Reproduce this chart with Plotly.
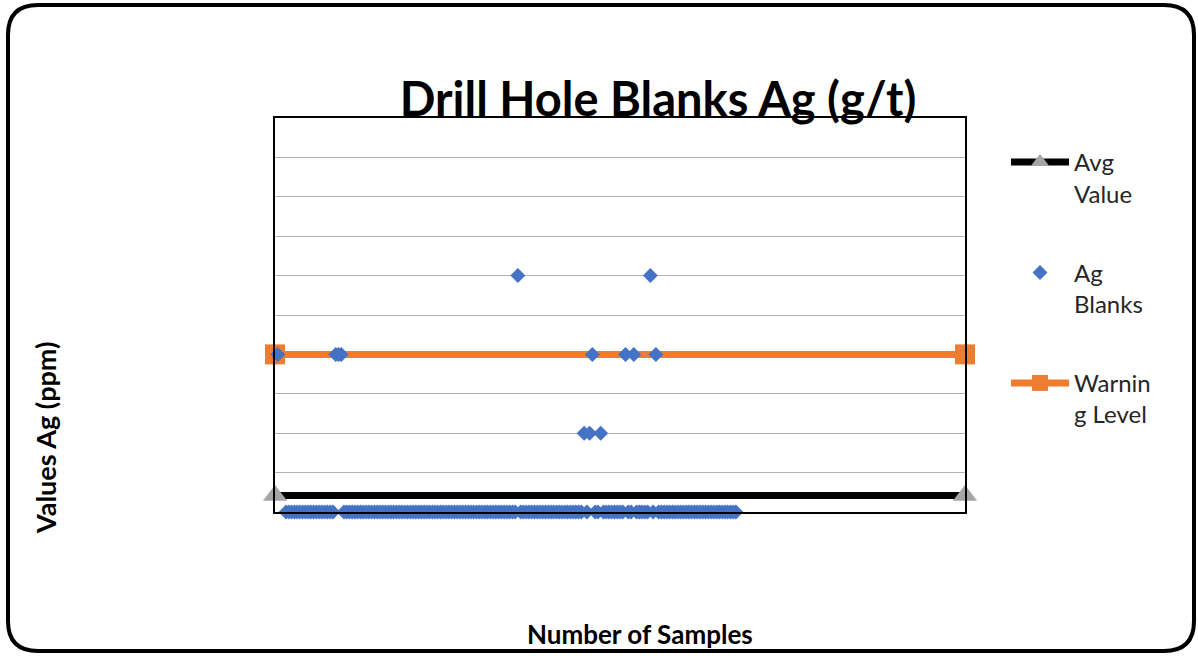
import plotly.graph_objects as go

# ---------------- data ----------------
sample_no = list(range(1, 168))
ag_blanks = [
    4, None, None, 0, 0, 0, 0, 0, 0, 0,      # 1-10
    0, 0, 0, 0, 0, 0, 0, 0, 0, 0,            # 11-20
    0, 4, 4, 4, 0, 0, 0, 0, 0, 0,            # 21-30
    0, 0, 0, 0, 0, 0, 0, 0, 0, 0,            # 31-40
    0, 0, 0, 0, 0, 0, 0, 0, 0, 0,            # 41-50
    0, 0, 0, 0, 0, 0, 0, 0, 0, 0,            # 51-60
    0, 0, 0, 0, 0, 0, 0, 0, 0, 0,            # 61-70
    0, 0, 0, 0, 0, 0, 0, 0, 0, 0,            # 71-80
    0, 0, 0, 0, 0, 0, 0, 6, 0, 0,            # 81-90
    0, 0, 0, 0, 0, 0, 0, 0, 0, 0,            # 91-100
    0, 0, 0, 0, 0, 0, 0, 0, 0, 0,            # 101-110
    0, 2, 0, 2, 4, 0, 0, 2, 0, 0,            # 111-120
    0, 0, 0, 0, 0, 0, 4, 0, 0, 4,            # 121-130
    0, 0, 0, 0, 0, 6, 0, 4, 0, 0,            # 131-140
    0, 0, 0, 0, 0, 0, 0, 0, 0, 0,            # 141-150
    0, 0, 0, 0, 0, 0, 0, 0, 0, 0,            # 151-160
    0, 0, 0, 0, 0, 0, 0,                     # 161-167
]
limit_x = [0, 250]
avg_value = [0.42, 0.42]
warning_level = [4, 4]

title_text = "Drill Hole Blanks Ag (g/t)"
x_title = "Number of Samples"
y_title = "Values Ag (ppm)"

# ---------------- layout geometry ----------------
W, H = 1198, 656
L, R, T, B = 275, 965, 118, 512   # plot area in pixels


def px(x):
    return (x - L) / (R - L)


def py(y):
    return (B - y) / (B - T)


FONT = "Lato, 'Open Sans', sans-serif"

fig = go.Figure()

fig.add_trace(go.Scatter(
    x=limit_x, y=avg_value, name="Avg<br>Value", mode="lines+markers",
    line=dict(color="#000000", width=7),
    marker=dict(symbol="triangle-up", size=21, color="#A5A5A5"),
    cliponaxis=False, legendrank=1, legendgroup="a",
))
fig.add_trace(go.Scatter(
    x=limit_x, y=warning_level, name="Warnin<br>g Level", mode="lines+markers",
    line=dict(color="#ED7D31", width=7),
    marker=dict(symbol="square", size=20, color="#ED7D31"),
    cliponaxis=False, legendrank=3, legendgroup="c",
))
fig.add_trace(go.Scatter(
    x=sample_no, y=ag_blanks, name="Ag<br>Blanks", mode="markers",
    marker=dict(symbol="diamond", size=11.5, color="#4472C4"),
    cliponaxis=False, legendrank=2, legendgroup="b",
))

# rounded outer border
x0, y0, x1, y1, r = 8, 5, 1194, 651, 30
path = (
    f"M {px(x0 + r)},{py(y0)} L {px(x1 - r)},{py(y0)} "
    f"Q {px(x1)},{py(y0)} {px(x1)},{py(y0 + r)} "
    f"L {px(x1)},{py(y1 - r)} Q {px(x1)},{py(y1)} {px(x1 - r)},{py(y1)} "
    f"L {px(x0 + r)},{py(y1)} Q {px(x0)},{py(y1)} {px(x0)},{py(y1 - r)} "
    f"L {px(x0)},{py(y0 + r)} Q {px(x0)},{py(y0)} {px(x0 + r)},{py(y0)} Z"
)

fig.update_layout(
    width=W, height=H,
    margin=dict(l=L, r=W - R, t=T, b=H - B, autoexpand=False),
    paper_bgcolor="white", plot_bgcolor="white",
    font=dict(family=FONT, color="#262626"),
    title=dict(text=f"<b>{title_text}</b>", x=658 / W, xanchor="center",
               y=1 - 100 / H, yanchor="middle",
               font=dict(family=FONT, size=47, color="#000000")),
    xaxis=dict(range=[0, 250], showgrid=False, showticklabels=False, ticks="",
               zeroline=False, showline=True, linecolor="#000000", linewidth=2,
               mirror=True),
    yaxis=dict(range=[0, 10], dtick=1, showgrid=True, gridcolor="#B4B4B4",
               gridwidth=1, showticklabels=False, ticks="", zeroline=False,
               showline=True, linecolor="#000000", linewidth=2, mirror=True),
    legend=dict(x=px(1006), y=py(140), xanchor="left", yanchor="top",
                font=dict(family=FONT, size=24, color="#262626"),
                tracegroupgap=45, valign="top", itemwidth=58,
                bgcolor="rgba(0,0,0,0)"),
    showlegend=True,
    shapes=[dict(type="path", xref="paper", yref="paper", path=path,
                 line=dict(color="#000000", width=4), layer="above")],
    annotations=[
        dict(text=f"<b>{x_title}</b>", xref="paper", yref="paper",
             x=px(640), y=py(634), xanchor="center", yanchor="middle",
             showarrow=False, font=dict(family=FONT, size=26, color="#000000")),
        dict(text=f"<b>{y_title}</b>", xref="paper", yref="paper",
             x=px(45), y=py(438), xanchor="center", yanchor="middle",
             textangle=-90, showarrow=False,
             font=dict(family=FONT, size=27, color="#000000")),
    ],
)

fig.write_html("out.html", config={"displayModeBar": False},
               post_script="document.body.style.margin='0';")
